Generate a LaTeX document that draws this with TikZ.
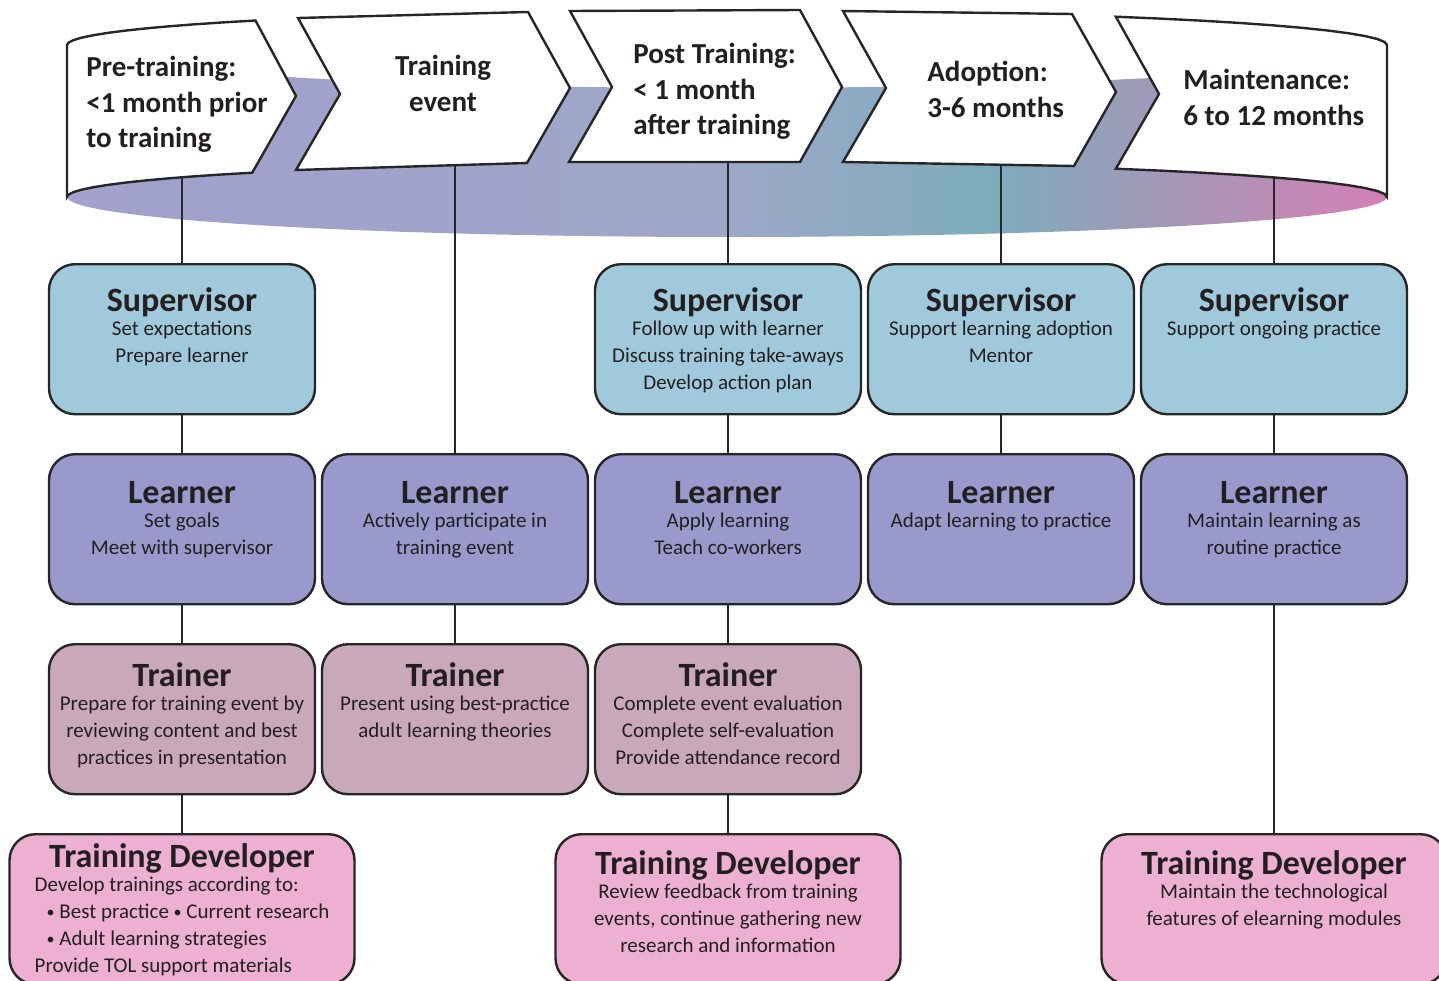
\documentclass[tikz,border=0pt]{standalone}
\usepackage{fontspec}
\setmainfont{Carlito}
\usepackage{xcolor}
\usepackage{tikz}
\usetikzlibrary{positioning}
\definecolor{ink}{HTML}{231F20}
\definecolor{rule}{HTML}{262626}
\definecolor{supfill}{HTML}{A0CADB}
\definecolor{lrnfill}{HTML}{9999CC}
\definecolor{trnfill}{HTML}{C9A8BA}
\definecolor{devfill}{HTML}{EDB0D2}
\pgfdeclarehorizontalshading{bandshade}{100bp}{%
  rgb(0bp)=(0.635,0.635,0.800);
  rgb(25bp)=(0.635,0.635,0.800);
  rgb(35bp)=(0.627,0.635,0.796);
  rgb(50bp)=(0.616,0.659,0.784);
  rgb(60bp)=(0.490,0.675,0.737);
  rgb(75bp)=(0.831,0.498,0.706);
  rgb(100bp)=(0.831,0.498,0.706)}
\tikzset{
  rolebox/.style={
    draw=rule, line width=1.2pt,
    rounded corners=13pt,
    minimum width=133pt, minimum height=75pt,
    inner sep=0pt, anchor=north
  },
  supbox/.style={rolebox, fill=supfill},
  lrnbox/.style={rolebox, fill=lrnfill},
  trnbox/.style={rolebox, fill=trnfill},
  devbox/.style={rolebox, fill=devfill, minimum width=172.5pt},
  roletitle/.style={font=\fontsize{17}{20}\selectfont\bfseries, text=ink, anchor=base, inner sep=0pt},
  rolebody/.style={font=\fontsize{10.5}{13.5}\selectfont, text=ink, inner sep=0pt},
  stagetext/.style={font=\fontsize{14.5}{17.75}\selectfont\bfseries, text=ink, align=left, inner sep=0pt},
  stagearrow/.style={draw=rule, line width=1.2pt, fill=white, line join=miter},
  link/.style={draw=rule, line width=0.9pt}
}
\newcommand{\RoleBox}[8][center]{%
  % #1 = body alignment, #2 = name, #3 = box style, #4 = x, #5 = top edge
  % #6 = title baseline below the top, #7 = title, #8 = body lines
  \node[#3] (#2) at (#4,#5) {};
  \node[roletitle] (#2-title) at (#4,#5+#6) {#7};
  \node[rolebody, align=#1, below=5pt of #2-title.base] (#2-body) {#8};
}
\newcommand{\smallbullet}{\raisebox{0.6pt}{\fontsize{8}{8}\selectfont •}}

\begin{document}
\begin{tikzpicture}[x=0.5pt, y=-0.5pt, line cap=round, line join=round]
  \useasboundingbox (0,0) rectangle (1439,980);
  \clip (0,0) rectangle (1439,980);

  % inside of the curved time band
  \shade[shading=bandshade]
    plot[domain=180:0, samples=40, variable=\t] ({727+660*cos(\t)},{45+43*sin(\t)})
    -- plot[domain=0:180, samples=40, variable=\t] ({727+660*cos(\t)},{197+40*sin(\t)})
    -- cycle;

  % feet of the stage arrows
  \coordinate (stage1) at (182,177);
  \coordinate (stage2) at (455,165);
  \coordinate (stage3) at (728,162);
  \coordinate (stage4) at (1001,165);
  \coordinate (stage5) at (1274,177);

  % roles per stage
  \RoleBox{sup1}{supbox}{182}{263}{48}{Supervisor}{Set expectations\\Prepare learner}
  \RoleBox{sup3}{supbox}{728}{263}{48}{Supervisor}{Follow up with learner\\Discuss training take-aways\\Develop action plan}
  \RoleBox{sup4}{supbox}{1001}{263}{48}{Supervisor}{Support learning adoption\\Mentor}
  \RoleBox{sup5}{supbox}{1274}{263}{48}{Supervisor}{Support ongoing practice}

  \RoleBox{lrn1}{lrnbox}{182}{453}{50}{Learner}{Set goals\\Meet with supervisor}
  \RoleBox{lrn2}{lrnbox}{455}{453}{50}{Learner}{Actively participate in\\training event}
  \RoleBox{lrn3}{lrnbox}{728}{453}{50}{Learner}{Apply learning\\Teach co-workers}
  \RoleBox{lrn4}{lrnbox}{1001}{453}{50}{Learner}{Adapt learning to practice}
  \RoleBox{lrn5}{lrnbox}{1274}{453}{50}{Learner}{Maintain learning as\\routine practice}

  \RoleBox{trn1}{trnbox}{182}{643}{43}{Trainer}{Prepare for training event by\\reviewing content and best\\practices in presentation}
  \RoleBox{trn2}{trnbox}{455}{643}{43}{Trainer}{Present using best-practice\\adult learning theories}
  \RoleBox{trn3}{trnbox}{728}{643}{43}{Trainer}{Complete event evaluation\\Complete self-evaluation\\Provide attendance record}

  \RoleBox[left]{dev1}{devbox}{182}{833}{34}{Training Developer}{Develop trainings according to:\\\hspace*{6pt}\smallbullet\ Best practice \smallbullet\ Current research\\\hspace*{6pt}\smallbullet\ Adult learning strategies\\Provide TOL support materials}
  \RoleBox{dev3}{devbox}{728}{833}{41}{Training Developer}{Review feedback from training\\events, continue gathering new\\research and information}
  \RoleBox{dev5}{devbox}{1274}{833}{41}{Training Developer}{Maintain the technological\\features of elearning modules}

  % connectors
  \draw[link] (stage1) -- (sup1.north);
  \draw[link] (stage2) -- (lrn2.north);
  \draw[link] (stage3) -- (sup3.north);
  \draw[link] (stage4) -- (sup4.north);
  \draw[link] (stage5) -- (sup5.north);
  \foreach \a/\b in {sup1/lrn1, lrn1/trn1, trn1/dev1, lrn2/trn2, sup3/lrn3,
                     lrn3/trn3, trn3/dev3, sup4/lrn4, sup5/lrn5, lrn5/dev5}
    \draw[link] (\a.south) -- (\b.north);

  % stage arrows on the front of the band
  \draw[stagearrow] (67,197)
    -- plot[domain=180:135.6, samples=12, variable=\t] ({727+660*cos(\t)},{45-35*sin(\t)})
    -- (296,96)
    -- plot[domain=136:180, samples=12, variable=\t] ({727+660*cos(\t)},{197-35*sin(\t)})
    -- cycle;
  \draw[stagearrow] (298,18) -- (528,12) -- (570,88) -- (527,163) -- (296,170) -- (340,94) -- cycle;
  \draw[stagearrow] (570,11) -- (800,10) -- (842,87) -- (800,162) -- (569,162) -- (612,87) -- cycle;
  \draw[stagearrow] (843,11) -- (1072,14) -- (1116,92) -- (1074,166) -- (843,162) -- (886,88) -- cycle;
  \draw[stagearrow] (1116,17) -- (1159,94)
    -- plot[domain=53.9:0, samples=12, variable=\t] ({727+660*cos(\t)},{197-35*sin(\t)})
    -- plot[domain=0:53.9, samples=12, variable=\t] ({727+660*cos(\t)},{45-35*sin(\t)})
    -- cycle;

  \node[stagetext, anchor=north west] (st1) at (86,56) {Pre-training:\\<1 month prior\\to training};
  \node[stagetext, anchor=north, align=center] (st2) at (443,55) {Training\\event};
  \node[stagetext, anchor=north west] (st3) at (633,43) {Post Training:\\< 1 month\\after training};
  \node[stagetext, anchor=north west] (st4) at (927,61) {Adoption:\\3-6 months};
  \node[stagetext, anchor=north west] (st5) at (1183,69) {Maintenance:\\6 to 12 months};
\end{tikzpicture}
\end{document}
